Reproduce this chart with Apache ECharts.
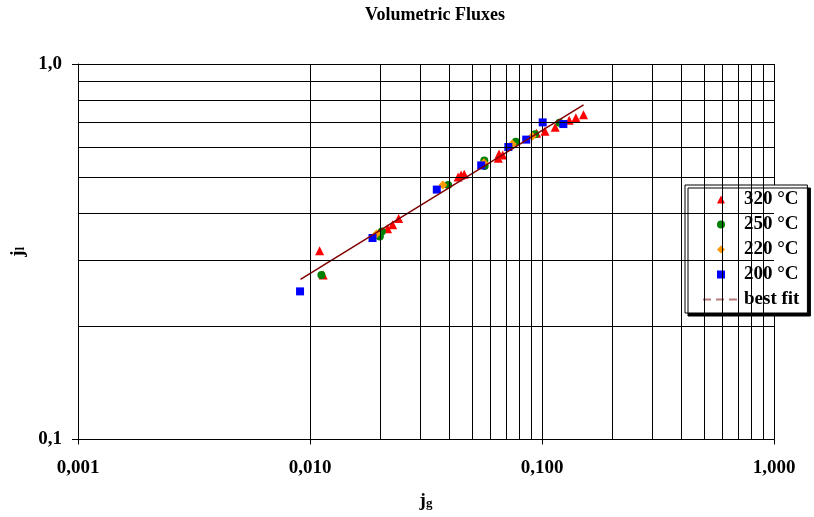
<!DOCTYPE html>
<html>
<head>
<meta charset="utf-8">
<script src="https://cdn.jsdelivr.net/npm/echarts@6/dist/echarts.min.js"></script>
<style>
  html, body { margin: 0; padding: 0; background: #fff; }
  #chart { width: 814px; height: 517px; }
</style>
</head>
<body>
<div id="chart"></div>
<script>
// Measured superficial velocities [jg, jl] for each temperature
const s320 = [[0.0110,0.318],[0.0114,0.274],[0.0216,0.364],[0.0227,0.373],[0.0241,0.388],
              [0.0435,0.500],[0.0448,0.506],[0.0462,0.509],[0.0648,0.561],[0.0653,0.576],
              [0.0677,0.572],[0.0948,0.654],[0.103,0.662],[0.114,0.678],[0.131,0.708],
              [0.140,0.719],[0.151,0.733]];
const s250 = [[0.0112,0.274],[0.0200,0.347],[0.0204,0.358],[0.0394,0.476],[0.0564,0.553],
              [0.0566,0.535],[0.0771,0.621],[0.0933,0.650],[0.119,0.697]];
const s220 = [[0.0194,0.353],[0.0374,0.476],[0.0562,0.546],[0.0745,0.612],[0.0908,0.642]];
const s200 = [[0.00906,0.248],[0.0186,0.344],[0.0352,0.463],[0.0547,0.537],[0.0716,0.601],
              [0.0855,0.629],[0.1007,0.699],[0.1236,0.692]];
// End points of the fitted power law
const bestFit = [[0.0091,0.267],[0.151,0.778]];

const seriesNames = ['320 °C','250 °C','220 °C','200 °C','best fit'];
const xTickLabels = {'-3':'0,001','-2':'0,010','-1':'0,100','0':'1,000'};
const yTickLabels = {'-1':'0,1','0':'1,0'};
// Intermediate grid values inside each decade
const xMinorGrid = [0.002,0.003,0.004,0.005,0.006,0.007,0.008,0.009,
                    0.02,0.03,0.04,0.05,0.06,0.07,0.08,0.09,
                    0.2,0.3,0.4,0.5,0.6,0.7,0.8,0.9];
const yMinorGrid = [0.2,0.3,0.4,0.5,0.6,0.7,0.8,0.9];

// Legend icons: a small marker centred inside a 36x8 box, so it is not stretched
const BOX = 'M0,0M36,8';
const legendIcons = {
  triangle: 'path://' + BOX + 'M14,8L18,0L22,8Z',
  circle:   'path://' + BOX + 'M14,4A4,4,0,1,0,22,4A4,4,0,1,0,14,4Z',
  diamond:  'path://' + BOX + 'M18,0L22,4L18,8L14,4Z',
  rect:     'path://' + BOX + 'M14,0L22,0L22,8L14,8Z'
};

const FONT = '"Liberation Serif", "Times New Roman", serif';
const chart = echarts.init(document.getElementById('chart'), null, {renderer: 'canvas'});

const gridLineMarks = xMinorGrid.map(v => ({xAxis: v}))
  .concat(yMinorGrid.map(v => ({yAxis: v})));

chart.setOption({
  animation: false,
  backgroundColor: '#fff',
  textStyle: {fontFamily: FONT},
  title: {
    text: 'Volumetric Fluxes',
    left: 430, top: 1, textAlign: 'center',
    textStyle: {fontFamily: FONT, fontWeight: 'bold', fontSize: 18, color: '#000'}
  },
  grid: {left: 78, right: 40, top: 64, bottom: 77.5, containLabel: false},
  xAxis: {
    type: 'log', logBase: 10, min: 0.001, max: 1,
    name: '{m|j}{s|g}', nameLocation: 'middle', nameGap: 52,
    nameTextStyle: {
      rich: {
        m: {fontFamily: FONT, fontWeight: 'bold', fontSize: 19, color: '#000'},
        s: {fontFamily: FONT, fontWeight: 'bold', fontSize: 13, color: '#000', verticalAlign: 'bottom', padding: [6,0,0,0]}
      }
    },
    axisLine: {show: true, lineStyle: {color: '#000', width: 1}},
    axisTick: {show: true, length: 5, lineStyle: {color: '#000'}},
    axisLabel: {
      margin: 19, fontFamily: FONT, fontWeight: 'bold', fontSize: 19, color: '#000',
      formatter: v => xTickLabels[String(Math.round(Math.log10(v)))] || ''
    },
    splitLine: {show: true, lineStyle: {color: '#000', width: 1}},
    minorTick: {show: false}, minorSplitLine: {show: false}
  },
  yAxis: {
    type: 'log', logBase: 10, min: 0.1, max: 1,
    name: '{m|j}{s|l}', nameLocation: 'middle', nameGap: 50, nameRotate: 90,
    nameTextStyle: {
      rich: {
        m: {fontFamily: FONT, fontWeight: 'bold', fontSize: 19, color: '#000'},
        s: {fontFamily: FONT, fontWeight: 'bold', fontSize: 13, color: '#000', verticalAlign: 'bottom', padding: [6,0,0,0]}
      }
    },
    axisLine: {show: true, lineStyle: {color: '#000', width: 1}},
    axisTick: {show: true, length: 6, lineStyle: {color: '#000'}},
    axisLabel: {
      margin: 16, fontFamily: FONT, fontWeight: 'bold', fontSize: 19, color: '#000',
      formatter: v => yTickLabels[String(Math.round(Math.log10(v)))] || ''
    },
    splitLine: {show: true, lineStyle: {color: '#000', width: 1}},
    minorTick: {show: false}, minorSplitLine: {show: false}
  },
  legend: {
    orient: 'vertical',
    left: 685, top: 185,
    padding: [5, 8, 4, 17],
    itemGap: 6,
    itemWidth: 36, itemHeight: 8,
    backgroundColor: '#fff',
    borderColor: '#000', borderWidth: 1,
    shadowColor: '#000', shadowBlur: 0, shadowOffsetX: 3, shadowOffsetY: 3,
    textStyle: {fontFamily: FONT, fontWeight: 'bold', fontSize: 19, lineHeight: 19, color: '#000'},
    data: [
      {name: seriesNames[0], icon: legendIcons.triangle},
      {name: seriesNames[1], icon: legendIcons.circle},
      {name: seriesNames[2], icon: legendIcons.diamond},
      {name: seriesNames[3], icon: legendIcons.rect},
      {name: seriesNames[4], itemStyle: {opacity: 0},
       lineStyle: {type: [8, 5], color: '#b87a7a', width: 2, opacity: 1}}
    ]
  },
  series: [
    {
      name: '_grid', type: 'line', data: [], silent: true, z: 1,
      markLine: {
        silent: true, symbol: 'none', label: {show: false},
        lineStyle: {type: 'solid', color: '#000', width: 1},
        emphasis: {disabled: true},
        data: gridLineMarks
      }
    },
    {
      name: seriesNames[0], type: 'scatter', data: s320,
      symbol: 'triangle', symbolSize: 9,
      itemStyle: {color: '#ff0000', opacity: 1}
    },
    {
      name: seriesNames[1], type: 'scatter', data: s250,
      symbol: 'circle', symbolSize: 8,
      itemStyle: {color: '#008000', opacity: 1}
    },
    {
      name: seriesNames[2], type: 'scatter', data: s220,
      symbol: 'diamond', symbolSize: 9,
      itemStyle: {color: '#ff9900', opacity: 1}
    },
    {
      name: seriesNames[3], type: 'scatter', data: s200,
      symbol: 'rect', symbolSize: 8,
      itemStyle: {color: '#0000ff', opacity: 1}
    },
    {
      name: seriesNames[4], type: 'line', data: bestFit,
      showSymbol: false, symbol: 'none',
      lineStyle: {color: '#800000', width: 1.5},
      itemStyle: {color: '#800000'}
    }
  ]
});
</script>
</body>
</html>
